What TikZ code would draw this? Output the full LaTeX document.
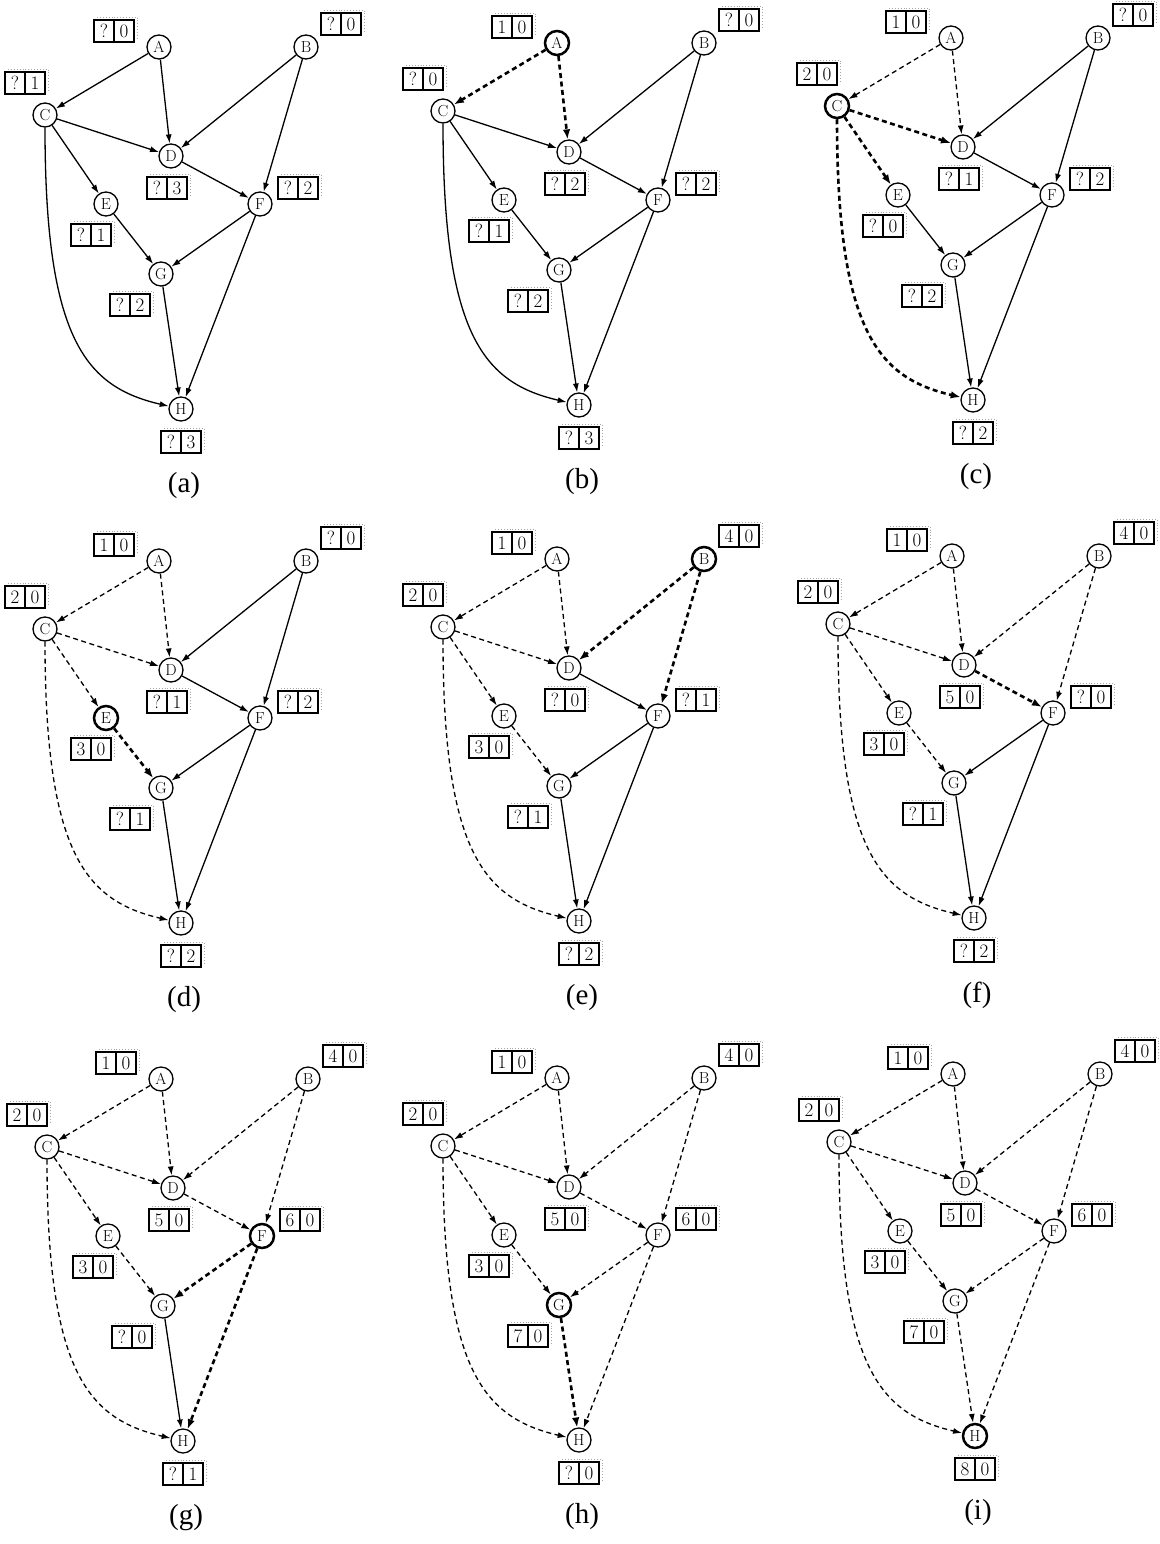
\documentclass[tikz,border=0pt]{standalone}
\usepackage{fontspec}
\newfontfamily\capfont{Liberation Serif}
\usetikzlibrary{arrows.meta,calc}
% processing order of the vertices
\def\ordA{1}\def\ordC{2}\def\ordE{3}\def\ordB{4}\def\ordD{5}\def\ordF{6}\def\ordG{7}\def\ordH{8}
% offset of each label box from its vertex
\def\bxA{-45}\def\byA{16}
\def\bxB{35}\def\byB{23}
\def\bxC{-20}\def\byC{32}
\def\bxD{-4}\def\byD{-32}
\def\bxE{-15}\def\byE{-31}
\def\bxF{38}\def\byF{16}
\def\bxG{-31}\def\byG{-31}
\def\bxH{0}\def\byH{-33}
\tikzset{
  vtx/.style={circle, draw, minimum size=24pt, inner sep=0pt, font=\fontsize{16}{18}\selectfont},
  cell/.style={draw, line width=1.2pt, minimum width=20pt, minimum height=22pt, inner sep=0pt, outer sep=0pt, font=\fontsize{19}{21}\selectfont},
  dotshadow/.style={draw=gray!70, dotted, line width=0.9pt},
  solidE/.style={line width=1.3pt, -{Latex[length=9pt,width=6pt]}},
  thinE/.style={line width=1.3pt, dash pattern=on 5pt off 3.5pt, -{Latex[length=9pt,width=6pt]}},
  boldE/.style={line width=2.6pt, dash pattern=on 5pt off 3.5pt, -{Latex[length=10pt,width=7.5pt]}},
  panelcap/.style={font=\capfont\fontsize{29}{32}\selectfont}
}
\newcommand\setedgestyle[2]{% #1 source vertex, #2 step
  \edef\os{\csname ord#1\endcsname}%
  \ifnum\os=#2\relax \tikzset{ecur/.style={boldE}}%
  \else\ifnum\os<#2\relax \tikzset{ecur/.style={thinE}}%
  \else \tikzset{ecur/.style={solidE}}\fi\fi}
\newcommand\drawpanel[6]{% #1 id, #2 dx, #3 dy, #4 step, #5 bold vertex, #6 labels
\begin{scope}[shift={(#2,{-1*(#3)})}]
  \foreach \n/\x/\y in {A/159/47,B/306/47,C/45/115,D/171/156,E/106/204,F/260/204,G/161/274,H/181/409}{%
    \edef\tmpa{\n}\edef\tmpb{#5}%
    \ifx\tmpa\tmpb \def\lw{2.5pt}\else\def\lw{1.3pt}\fi
    \node[vtx, line width=\lw] (#1\n) at (\x,-\y) {\n};
  }
  \foreach \src/\dst in {A/C,A/D,B/D,B/F,C/D,C/E,D/F,E/G,F/G,F/H,G/H}{%
    \setedgestyle{\src}{#4}%
    \draw[ecur] (#1\src) -- (#1\dst);
  }
  \setedgestyle{C}{#4}%
  \draw[ecur] (#1C) .. controls ($(#1C)+(0,-225)$) and ($(#1H)+(-95,22)$) .. (#1H);
  \foreach \n/\p/\q in {#6}{%
    \edef\bx{\csname bx\n\endcsname}\edef\by{\csname by\n\endcsname}%
    \node[cell] (#1\n-l) at ($(#1\n)+(\bx-10,\by)$) {\p};
    \node[cell, anchor=west] (#1\n-r) at (#1\n-l.east) {\q};
    \draw[dotshadow] ($(#1\n-l.north west)+(3,3)$) -- ($(#1\n-r.north east)+(3,3)$) -- ($(#1\n-r.south east)+(3,3)$);
  }
  \node[panelcap] (#1cap) at (184,-486) {(#1)};
\end{scope}}
\begin{document}
\begin{tikzpicture}[x=1pt,y=1pt]
\fill[white] (0,0) rectangle (1159,-1544);
\useasboundingbox (0,0) rectangle (1159,-1544);
\drawpanel{a}{0}{0}{0}{none}{A/?/0,B/?/0,C/?/1,D/?/3,E/?/1,F/?/2,G/?/2,H/?/3}
\drawpanel{b}{398}{-4}{1}{A}{A/1/0,B/?/0,C/?/0,D/?/2,E/?/1,F/?/2,G/?/2,H/?/3}
\drawpanel{c}{792}{-9}{2}{C}{A/1/0,B/?/0,C/2/0,D/?/1,E/?/0,F/?/2,G/?/2,H/?/2}
\drawpanel{d}{0}{514}{3}{E}{A/1/0,B/?/0,C/2/0,D/?/1,E/3/0,F/?/2,G/?/1,H/?/2}
\drawpanel{e}{398}{512}{4}{B}{A/1/0,B/4/0,C/2/0,D/?/0,E/3/0,F/?/1,G/?/1,H/?/2}
\drawpanel{f}{793}{509}{5}{none}{A/1/0,B/4/0,C/2/0,D/5/0,E/3/0,F/?/0,G/?/1,H/?/2}
\drawpanel{g}{2}{1032}{6}{F}{A/1/0,B/4/0,C/2/0,D/5/0,E/3/0,F/6/0,G/?/0,H/?/1}
\drawpanel{h}{398}{1031}{7}{G}{A/1/0,B/4/0,C/2/0,D/5/0,E/3/0,F/6/0,G/7/0,H/?/0}
\drawpanel{i}{794}{1027}{8}{H}{A/1/0,B/4/0,C/2/0,D/5/0,E/3/0,F/6/0,G/7/0,H/8/0}
\end{tikzpicture}
\end{document}
